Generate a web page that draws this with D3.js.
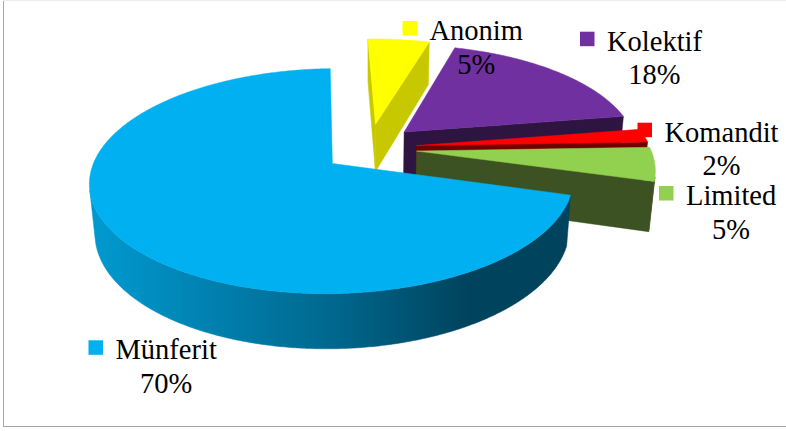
<!DOCTYPE html>
<html>
<head>
<meta charset="utf-8">
<script src="https://cdn.jsdelivr.net/npm/d3@7"></script>
<style>
  html, body { margin: 0; padding: 0; background: #fff; }
  #chart { width: 786px; height: 431px; }
</style>
</head>
<body>
<div id="chart"></div>
<script>
'use strict'

// data
const categories = ["Anonim", "Kolektif", "Komandit", "Limited", "Münferit"];
const values = [5, 18, 2, 5, 70];
const topColors = ["#FFFF00", "#7030A0", "#FF0000", "#92D050", "#00B0F0"];
const cutColors = ["#c8c800", "#2e1440", "#720000", "#3d5223", "#0090c0"];
const wallColors = ["#b0b000", "#2a123a", "#600000", "#3a4f21", null];

let pie3d = ((selector = '#chart') => {

    const svgWidth = 786
    const svgHeight = 431

    const svg = d3.select(selector)
        .append('svg')
        .attr('width', svgWidth)
        .attr('height', svgHeight)

    ////////////////////////////////////
    //////////// frame /////////////////
    ////////////////////////////////////

    svg.append('line').attr('x1', 3.5).attr('x2', 3.5).attr('y1', 0).attr('y2', 427)
        .attr('stroke', '#a6a6a6')
    svg.append('line').attr('x1', 3).attr('x2', svgWidth).attr('y1', 426.5).attr('y2', 426.5)
        .attr('stroke', '#a6a6a6')
    svg.append('line').attr('x1', 3).attr('x2', svgWidth).attr('y1', 0.5).attr('y2', 0.5)
        .attr('stroke', '#ececec')

    ////////////////////////////////////
    //////////// projection ///////////
    ////////////////////////////////////

    // pie lies in the (u, v) plane, v pointing away, z up; radius 1
    const cx = 370, cy = 148
    const Fx = 1360, Fy = 1332
    const D = 5.82
    const phi = 27.3 * Math.PI / 180
    const sinP = Math.sin(phi), cosP = Math.cos(phi)
    const depthH = 0.243     // thickness of the pie
    const explodeU = 0.2, explodeV = 0.235
    const firstAngle = -2 * Math.PI / 180
    const cam = [0, -D * cosP, D * sinP]

    function proj(u, v, z) {
        const d = D + v * cosP - z * sinP
        return [cx + Fx * u / d, cy - Fy * (v * sinP + z * cosP) / d]
    }

    function facing(nu, nv, pu, pv) {
        return nu * (cam[0] - pu) + nv * (cam[1] - pv) > 0
    }

    const pie = d3.pie().sort(null).value(d => d.value)
        .startAngle(firstAngle).endAngle(firstAngle + 2 * Math.PI)

    const data = categories.map((c, i) => ({ category: c, value: values[i], i: i }))
    const arcs = pie(data)

    const line = d3.line()
    const step = Math.PI / 360

    function arcSamples(a0, a1) {
        const n = Math.max(2, Math.ceil((a1 - a0) / step))
        return d3.range(n + 1).map(k => a0 + (a1 - a0) * k / n)
    }

    // shading of the big slice's curved side, light on the left
    const defs = svg.append('defs')
    const grad = defs.append('linearGradient')
        .attr('id', 'sideGrad')
        .attr('gradientUnits', 'userSpaceOnUse')
        .attr('x1', 90).attr('x2', 470).attr('y1', 0).attr('y2', 0)
    grad.append('stop').attr('offset', 0).attr('stop-color', '#009ad0')
    grad.append('stop').attr('offset', 0.62).attr('stop-color', '#006990')
    grad.append('stop').attr('offset', 1).attr('stop-color', '#00435d')

    const g = svg.append('g')

    arcs.forEach(a => {
        const i = a.data.i
        const mid = (a.startAngle + a.endAngle) / 2
        const ou = explodeU * Math.sin(mid), ov = explodeV * Math.cos(mid)
        const pt = (t, z) => proj(ou + Math.sin(t), ov + Math.cos(t), z)
        const apex = z => proj(ou, ov, z)
        const slice = g.append('g').attr('class', 'slice')

        // cut walls
        const s0 = a.startAngle, s1 = a.endAngle
        const cuts = [
            { t: s0, n: [-Math.cos(s0), Math.sin(s0)] },
            { t: s1, n: [Math.cos(s1), -Math.sin(s1)] }
        ]
        cuts.forEach(c => {
            if (!facing(c.n[0], c.n[1], ou, ov)) return
            slice.append('path')
                .attr('d', line([apex(0), pt(c.t, 0), pt(c.t, -depthH), apex(-depthH)]) + 'Z')
                .attr('fill', cutColors[i])
                .attr('stroke', cutColors[i])
                .attr('stroke-width', 0.5)
        })

        // outer wall: group the visible runs of samples
        const ts = arcSamples(s0, s1)
        const runs = []
        let cur = null
        for (let k = 0; k < ts.length - 1; k++) {
            const tm = (ts[k] + ts[k + 1]) / 2
            const vis = facing(Math.sin(tm), Math.cos(tm), ou + Math.sin(tm), ov + Math.cos(tm))
            if (vis) {
                if (!cur) { cur = [ts[k]]; runs.push(cur) }
                cur.push(ts[k + 1])
            } else {
                cur = null
            }
        }
        runs.forEach(r => {
            const p = r.map(t => pt(t, 0)).concat(r.slice().reverse().map(t => pt(t, -depthH)))
            const col = wallColors[i] || 'url(#sideGrad)'
            slice.append('path')
                .attr('d', line(p) + 'Z')
                .attr('fill', col)
                .attr('stroke', col)
                .attr('stroke-width', 0.5)
        })

        // top face
        const topPts = [apex(0)].concat(ts.map(t => pt(t, 0)))
        slice.append('path')
            .attr('d', line(topPts) + 'Z')
            .attr('fill', topColors[i])
            .attr('stroke', topColors[i])
            .attr('stroke-width', 0.5)
    })

    ////////////////////////////////////
    //////////// labels ////////////////
    ////////////////////////////////////

    // legend-key square position and first baseline for each label
    const labelLayout = {
        "Anonim":   { x: 402.5, y: 40 },
        "Kolektif": { x: 580,   y: 50.7 },
        "Komandit": { x: 637.5, y: 141.7 },
        "Limited":  { x: 659,   y: 205 },
        "Münferit": { x: 88.5,  y: 359.3 }
    }

    const fontFamily = '"Liberation Serif", "Times New Roman", serif'
    const keySize = 14.5

    arcs.forEach(a => {
        const i = a.data.i
        const pos = labelLayout[a.data.category]
        const lg = svg.append('g').attr('class', 'label')

        lg.append('rect')
            .attr('x', pos.x)
            .attr('y', pos.y - 19)
            .attr('width', keySize)
            .attr('height', keySize)
            .attr('fill', topColors[i])

        const name = lg.append('text')
            .attr('x', pos.x + 27)
            .attr('y', pos.y)
            .attr('fill', '#000')
            .attr('font-family', fontFamily)
            .attr('font-size', 28.5)
            .text(a.data.category)

        const w = name.node().getComputedTextLength()

        lg.append('text')
            .attr('x', pos.x + 27 + w / 2)
            .attr('y', pos.y + 33.5)
            .attr('text-anchor', 'middle')
            .attr('fill', '#000')
            .attr('font-family', fontFamily)
            .attr('font-size', 28.5)
            .text(a.data.value + '%')
    })

})()
</script>
</body>
</html>
